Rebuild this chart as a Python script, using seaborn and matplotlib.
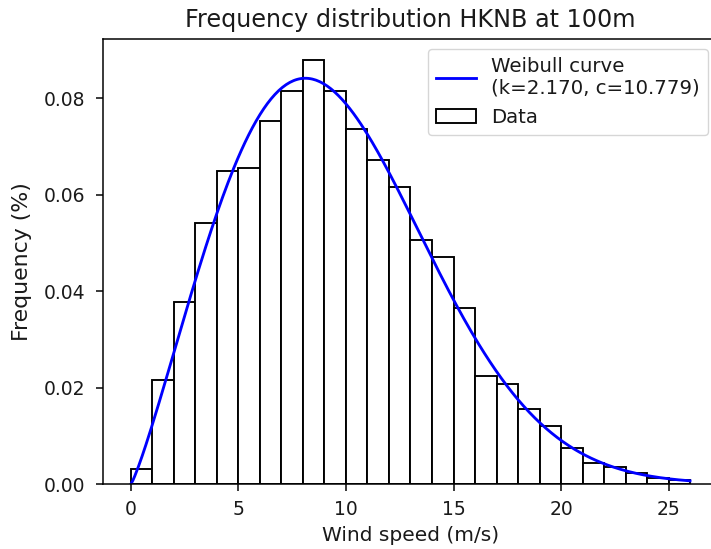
import numpy as np
import pandas as pd
import matplotlib
matplotlib.use("Agg")
import matplotlib.pyplot as plt
import seaborn as sns
from matplotlib.lines import Line2D
from matplotlib.patches import Patch

# ---- data ----
bin_edges = list(range(0, 27))
bin_freq = [0.0031, 0.0215, 0.0377, 0.0542, 0.0650, 0.0655, 0.0753, 0.0815,
            0.0880, 0.0815, 0.0736, 0.0672, 0.0615, 0.0507, 0.0470, 0.0366,
            0.0224, 0.0208, 0.0156, 0.0121, 0.0075, 0.0044, 0.0036, 0.0022,
            0.0012, 0.0008]
weibull_k = 2.170
weibull_c = 10.779
curve_x = np.linspace(0, 26, 300)
curve_y = (weibull_k / weibull_c) * (curve_x / weibull_c) ** (weibull_k - 1) * \
    np.exp(-(curve_x / weibull_c) ** weibull_k)

title = "Frequency distribution HKNB at 100m"
xlabel = "Wind speed (m/s)"
ylabel = "Frequency (%)"
xticks = [0, 5, 10, 15, 20, 25]
yticks = [0.00, 0.02, 0.04, 0.06, 0.08]
legend_labels = ["Weibull curve\n(k=2.170, c=10.779)", "Data"]

S = 1.36
plt.rcParams.update({
    "font.family": ["DejaVu Sans"],
    "font.size": 13.5,
    "text.color": "#1a1a1a",
    "axes.labelcolor": "#1a1a1a",
    "xtick.labelcolor": "#1a1a1a",
    "ytick.labelcolor": "#1a1a1a",
    "xtick.major.size": 3.5 * S,
    "ytick.major.size": 3.5 * S,
    "xtick.major.width": 0.8 * S,
    "ytick.major.width": 0.8 * S,
    "xtick.major.pad": 6.5,
    "ytick.major.pad": 8.0,
    "axes.linewidth": 0.8 * S,
})

fig = plt.figure(figsize=(7.11, 5.49), dpi=100)
ax = fig.add_axes([103 / 711, 1 - 484 / 549, (718 - 103) / 711, (484 - 38.5) / 549])

df = pd.DataFrame({"x": [e + 0.5 for e in bin_edges[:-1]], "w": bin_freq})
sns.histplot(data=df, x="x", weights="w", bins=bin_edges, stat="count",
             color="white", edgecolor="black", linewidth=1.0 * S, alpha=1,
             ax=ax)
sns.lineplot(x=curve_x, y=curve_y, color="blue", linewidth=1.5 * S, ax=ax)

ax.set_xlim(-1.3, 27.3)
ax.set_ylim(0, 0.0924)
ax.set_xticks(xticks)
ax.set_yticks(yticks)
ax.set_yticklabels([f"{v:.2f}" for v in yticks])
ax.set_title(title, fontsize=17.2, pad=8.2)
ax.set_xlabel(xlabel, fontsize=14.5, labelpad=5.0)
ax.set_ylabel(ylabel, fontsize=15.8, labelpad=8.5)

handles = [Line2D([0], [0], color="blue", linewidth=1.5 * S),
           Patch(facecolor="white", edgecolor="black", linewidth=1.0 * S)]
ax.legend(handles, legend_labels, loc="upper right", fontsize=14.2, framealpha=0.8,
          borderaxespad=0, bbox_to_anchor=(0.9837, 0.9764))

fig.savefig("out.png", dpi=100)
